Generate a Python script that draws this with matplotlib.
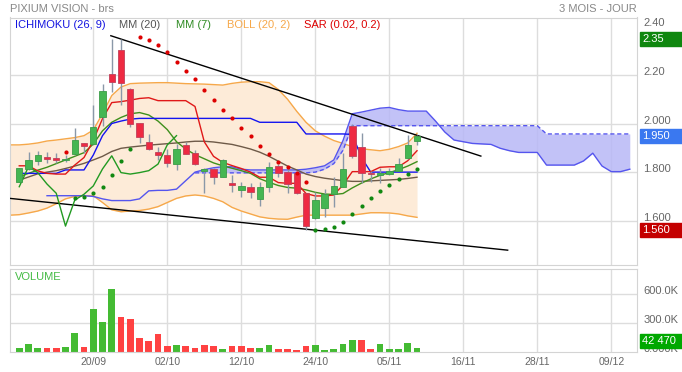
import numpy as np
import matplotlib
matplotlib.use('Agg')
import matplotlib.pyplot as plt
from matplotlib.patches import Rectangle

plt.rcParams['font.family'] = ['Liberation Sans', 'DejaVu Sans']

# daily candles (bar index 0..43)
opens = [1.760, 1.812, 1.847, 1.862, 1.858, 1.848, 1.873, 1.919, 1.914, 2.026,
         2.204, 2.302, 2.141, 2.001, 1.924, 1.883, 1.869, 1.832, 1.910, 1.877,
         1.805, 1.812, 1.781, 1.756, 1.726, 1.737, 1.691, 1.740, 1.825, 1.799,
         1.798, 1.713, 1.610, 1.651, 1.710, 1.740, 1.991, 1.902, 1.798, 1.790,
         1.792, 1.806, 1.857, 1.929]
highs = [1.818, 1.881, 1.888, 1.884, 1.877, 1.870, 1.980, 1.921, 2.076, 2.163,
         2.346, 2.349, 2.145, 2.003, 1.957, 1.902, 1.894, 1.916, 1.925, 1.891,
         1.815, 1.815, 1.855, 1.788, 1.760, 1.756, 1.760, 1.843, 1.833, 1.820,
         1.800, 1.715, 1.719, 1.729, 1.779, 1.877, 2.000, 1.960, 1.806, 1.816,
         1.815, 1.857, 1.953, 1.953]
lows = [1.758, 1.810, 1.829, 1.836, 1.836, 1.843, 1.870, 1.877, 1.910, 1.990,
        2.130, 2.076, 1.985, 1.918, 1.890, 1.850, 1.820, 1.809, 1.874, 1.830,
        1.713, 1.751, 1.778, 1.719, 1.696, 1.692, 1.660, 1.719, 1.779, 1.713,
        1.710, 1.560, 1.608, 1.614, 1.658, 1.738, 1.860, 1.756, 1.760, 1.754,
        1.790, 1.804, 1.855, 1.912]
closes = [1.816, 1.850, 1.870, 1.855, 1.849, 1.852, 1.932, 1.909, 1.987, 2.134,
          2.172, 2.165, 1.998, 1.946, 1.894, 1.869, 1.836, 1.894, 1.876, 1.832,
          1.814, 1.779, 1.850, 1.748, 1.743, 1.718, 1.740, 1.822, 1.798, 1.751,
          1.713, 1.578, 1.685, 1.709, 1.743, 1.813, 1.867, 1.798, 1.792, 1.798,
          1.806, 1.833, 1.912, 1.950]
volumes = [35, 76, 38, 35, 35, 45, 191, 45, 448, 305,
           652, 361, 337, 142, 108, 180, 59, 69, 59, 35,
           73, 59, 28, 59, 59, 38, 35, 69, 24, 28,
           21, 62, 69, 21, 28, 76, 121, 121, 24, 76,
           28, 28, 87, 42.47]  # thousands

date_ticks = [8, 16, 24, 32, 40, 48, 56, 64]
date_labels = ['20/09', '02/10', '12/10', '24/10', '05/11', '16/11', '28/11', '09/12']

# indicators
tenkan = [1.826, 1.826, 1.805, 1.795, 1.792, 1.792, 1.829, 1.86, 1.93, 2.02,
          2.086, 2.09, 2.096, 2.103, 2.106, 2.094, 2.094, 2.094, 2.094, 2.07,
          1.925, 1.865, 1.84, 1.827, 1.815, 1.80, 1.779, 1.779, 1.757, 1.754,
          1.754, 1.712, 1.702, 1.702, 1.706, 1.747, 1.802, 1.802, 1.802, 1.82,
          1.822, 1.822, 1.847, 1.888]
kijun = [1.795, 1.795, 1.795, 1.795, 1.795, 1.809, 1.809, 1.809, 1.87, 1.95,
         2.0, 2.01, 2.018, 2.021, 2.021, 2.021, 2.021, 2.021, 2.021, 2.021,
         2.021, 2.021, 2.021, 2.021, 2.021, 2.021, 2.005, 2.005, 2.005, 2.005,
         2.005, 1.957, 1.957, 1.957, 1.957, 1.957, 1.955, 1.86, 1.80, 1.80,
         1.80, 1.80, 1.80, 1.80]
mm20 = [1.767, 1.78, 1.793, 1.800, 1.806, 1.815, 1.825, 1.836, 1.850, 1.865,
        1.885, 1.898, 1.903, 1.907, 1.911, 1.914, 1.917, 1.920, 1.924, 1.927,
        1.927, 1.924, 1.919, 1.914, 1.905, 1.895, 1.882, 1.865, 1.845, 1.825,
        1.809, 1.792, 1.782, 1.775, 1.770, 1.765, 1.762, 1.762, 1.764, 1.766,
        1.768, 1.770, 1.774, 1.779]
mm7 = [1.781, 1.795, 1.808, 1.820, 1.835, 1.850, 1.865, 1.880, 1.915, 1.970,
       2.005, 2.025, 2.040, 2.045, 2.035, 2.010, 1.975, 1.925, 1.895, 1.872,
       1.855, 1.838, 1.826, 1.816, 1.806, 1.795, 1.773, 1.758, 1.745, 1.737,
       1.734, 1.727, 1.717, 1.710, 1.708, 1.712, 1.735, 1.755, 1.772, 1.787,
       1.798, 1.810, 1.825, 1.843]
# bollinger starts one bar before the first candle (index -1)
boll_up = [1.912,
           1.912, 1.915, 1.920, 1.928, 1.932, 1.937, 1.942, 1.950, 1.973, 2.040,
           2.115, 2.150, 2.164, 2.166, 2.167, 2.168, 2.168, 2.166, 2.164, 2.163,
           2.162, 2.160, 2.158, 2.165, 2.170, 2.172, 2.172, 2.168, 2.140, 2.100,
           2.050, 2.005, 1.970, 1.948, 1.930, 1.918, 1.905, 1.896, 1.892, 1.888,
           1.894, 1.905, 1.920, 1.960]
boll_lo = [1.623,
           1.625, 1.632, 1.640, 1.652, 1.670, 1.690, 1.700, 1.702, 1.703, 1.675,
           1.645, 1.637, 1.640, 1.642, 1.648, 1.658, 1.675, 1.692, 1.702, 1.706,
           1.702, 1.692, 1.678, 1.655, 1.640, 1.628, 1.616, 1.610, 1.607, 1.606,
           1.615, 1.623, 1.623, 1.623, 1.623, 1.623, 1.623, 1.628, 1.633, 1.633,
           1.632, 1.628, 1.620, 1.614]
# cloud: solid span from bar 3, dashed span from bar 19, both to bar 66
span_b = [1.703, 1.703, 1.703, 1.703, 1.703, 1.700, 1.690,
          1.683, 1.683, 1.683, 1.690, 1.723, 1.725, 1.725, 1.730, 1.765, 1.800,
          1.810, 1.818, 1.822, 1.822, 1.812, 1.809, 1.809, 1.809, 1.809, 1.809,
          1.809, 1.812, 1.818, 1.826, 1.850, 1.930, 2.040, 2.047, 2.055, 2.063,
          2.066, 2.057, 2.051, 2.051, 2.051, 2.010, 1.965, 1.932, 1.925, 1.918,
          1.916, 1.914, 1.898, 1.888, 1.881, 1.881, 1.881, 1.829, 1.829, 1.829,
          1.829, 1.846, 1.878, 1.825, 1.802, 1.802, 1.812]
span_a = [1.797] * 11 + \
         [1.797, 1.797, 1.800, 1.812, 1.835, 1.890, 1.991, 1.991, 1.991, 1.991] + \
         [1.991] * 17 + [1.957] * 10
sar = [None, None, None, None, None, 1.884, 1.692, 1.699, 1.713, 1.740,
       1.788, 1.847, 1.895, 2.355, 2.344, 2.323, 2.293, 2.253, 2.217, 2.183,
       2.138, 2.097, 2.056, 2.024, 1.983, 1.949, 1.907, 1.874, 1.843, 1.820,
       1.798, 1.759, 1.562, 1.566, 1.575, 1.596, 1.629, 1.662, 1.695, 1.722,
       1.748, 1.772, 1.792, 1.814]
trend_hi_x, trend_hi_y = [9.9, 49.9], [2.361, 1.866]
trend_lo_x, trend_lo_y = [-1.0, 52.8], [1.692, 1.479]

W, H = 682, 372
fig = plt.figure(figsize=(W / 100, H / 100), dpi=100)

def rect(x0, y0, x1, y1):
    return [x0 / W, 1 - y1 / H, (x1 - x0) / W, (y1 - y0) / H]

ax = fig.add_axes(rect(10, 17.5, 637, 265))
axv = fig.add_axes(rect(10, 269.3, 637, 351.7))

o, h, l, c = map(np.array, (opens, highs, lows, closes))
x = np.arange(len(c))
GRID = '#dddddd'
TXT = '#666666'

for a in (ax, axv):
    a.set_xlim(-1.0, 66.78)
    for s in a.spines.values():
        s.set_color('#d4d4d4')
    a.tick_params(length=0, labelleft=False, labelright=False, labelbottom=False)
    a.set_xticks(date_ticks)
    a.grid(True, color=GRID, lw=1, zorder=0)
    a.set_axisbelow(True)

ax.set_ylim(1.418, 2.436)
ax.set_yticks([1.6, 1.8, 2.0, 2.2])

# bollinger
xb = np.arange(-1, len(c))
ax.fill_between(xb, boll_lo, boll_up, color='#fdebd8', lw=0, zorder=1)
ax.plot(xb, boll_up, color='#f6a84a', lw=1, zorder=2)
ax.plot(xb, boll_lo, color='#f6a84a', lw=1, zorder=2)

# ichimoku cloud
xsb = np.arange(3, 3 + len(span_b))
xsa = np.arange(19, 19 + len(span_a))
sb_on_a = np.array(span_b)[19 - 3:]
ax.fill_between(xsa, sb_on_a, span_a, color='#b8b8f6', alpha=0.85, lw=0, zorder=2)
ax.plot(xsb, span_b, color='#5555ee', lw=1, zorder=3)
ax.plot(xsa, span_a, color='#5555ee', lw=1, ls=(0, (3, 2)), zorder=3)

# trend lines
ax.plot(trend_hi_x, trend_hi_y, color='black', lw=1, zorder=3)
ax.plot(trend_lo_x, trend_lo_y, color='black', lw=1, zorder=3)

# averages and ichimoku lines
ax.plot(x, mm20, color='#6e5a48', lw=1, zorder=3)
ax.plot(x, mm7, color='#3f8f1c', lw=1, zorder=3)
ax.plot(x, kijun, color='#1414f0', lw=1, zorder=3)
ax.plot(x, tenkan, color='#e01818', lw=1, zorder=3)
ax.plot(x[26:] - 26, c[26:], color='#229a22', lw=1, zorder=3)

# candles
up = c >= o
wick = '#8a98a8'
ax.vlines(x, l, h, color=wick, lw=1, zorder=4)
body = np.maximum(np.abs(c - o), 0.004)
ax.bar(x[up], body[up], bottom=np.minimum(o, c)[up], width=0.7,
       color='#45b652', edgecolor='#3b9c48', lw=0.6, zorder=5)
ax.bar(x[~up], body[~up], bottom=np.minimum(o, c)[~up], width=0.7,
       color='#ee2a42', edgecolor='#c0405a', lw=0.6, zorder=5)

# parabolic SAR
sar_v = np.array([np.nan if s is None else s for s in sar])
below = sar_v < c
ax.scatter(x[below], sar_v[below], s=9, color='#118811', lw=0, zorder=6)
above = sar_v > c
ax.scatter(x[above], sar_v[above], s=9, color='#dd0000', lw=0, zorder=6)

# volume
vol = np.array(volumes) * 1000
vup = np.concatenate([[True], c[1:] >= c[:-1]])
axv.bar(x, vol, width=0.75, color=np.where(vup, '#44bb33', '#ff4242'), zorder=2)
axv.set_ylim(0, 858000)
axv.set_yticks([300000, 600000])
axv.set_xticks(date_ticks)
axv.set_xticklabels(date_labels)
axv.tick_params(labelbottom=True, labelsize=7.5, labelcolor=TXT, pad=3.5)

# right-hand price labels
for v, t in [(2.4, '2.40'), (2.2, '2.20'), (2.0, '2.000'), (1.8, '1.800'), (1.6, '1.600')]:
    ax.annotate(t, xy=(1, v), xycoords=('axes fraction', 'data'), xytext=(4.5, 2),
                textcoords='offset points', va='center', ha='left', fontsize=8,
                color=TXT, annotation_clip=False)
for v, t in [(600000, '600.0K'), (300000, '300.0K'), (0, '0.000K')]:
    axv.annotate(t, xy=(1, v), xycoords=('axes fraction', 'data'), xytext=(4.5, 2),
                 textcoords='offset points', va='center', ha='left', fontsize=8,
                 color=TXT, annotation_clip=False)

def badge(axis, value, text, color, ypix=None):
    if ypix is None:
        ypix = H - axis.transData.transform((0, value))[1]
    fig.patches.append(Rectangle((640 / W, 1 - (ypix + 7) / H), 42 / W, 14 / H,
                                 transform=fig.transFigure, color=color, zorder=10))
    fig.text(642 / W, 1 - ypix / H, text, color='white', fontsize=8, va='center',
             ha='left', zorder=11)

badge(ax, max(highs), '%.2f' % max(highs), '#0f870f')
badge(ax, closes[-1], '%.3f' % closes[-1], '#3a78f0')
badge(ax, min(lows), '%.3f' % min(lows), '#c40000')
badge(axv, vol[-1], '{:,}'.format(int(round(vol[-1]))).replace(',', ' '), '#00a800', ypix=341)

# titles and legend
fig.text(10 / W, 1 - 9 / H, 'PIXIUM VISION - brs', color='#888888', fontsize=8, va='center')
fig.text(637 / W, 1 - 9 / H, '3 MOIS - JOUR', color='#888888', fontsize=8, va='center', ha='right')
legend = [(15, 'ICHIMOKU (26, 9)', '#1414e0'), (119, 'MM (20)', '#555555'),
          (176, 'MM (7)', '#2e8b22'), (227, 'BOLL (20, 2)', '#f6a84a'),
          (304, 'SAR (0.02, 0.2)', '#dd0000')]
for px, t, col in legend:
    fig.text(px / W, 1 - 25 / H, t, color=col, fontsize=8, va='center')
fig.text(15 / W, 1 - 277.3 / H, 'VOLUME', color='#44bb44', fontsize=8, va='center')

fig.savefig('out.png', dpi=100)
